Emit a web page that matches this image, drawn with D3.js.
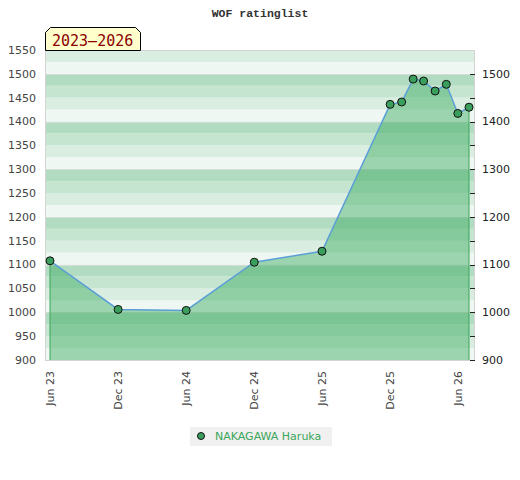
<!DOCTYPE html>
<html><head><meta charset="utf-8">
<script src="https://cdn.jsdelivr.net/npm/d3@7/dist/d3.min.js"></script>
<style>body{margin:0;background:#fff}svg{display:block}</style>
</head><body>
<svg id="c" width="520" height="480"></svg>
<script>
const dates = ["2023-06-01","2023-12-01","2024-06-01","2024-12-01","2025-06-01","2025-12-01","2026-01-01","2026-02-01","2026-03-01","2026-04-01","2026-05-01","2026-06-01","2026-07-01"];
const ratings = [1108,1006,1004,1105,1128,1436,1441,1489,1485,1464,1478,1417,1430];
const xTickDates = ["2023-06-01","2023-12-01","2024-06-01","2024-12-01","2025-06-01","2025-12-01","2026-06-01"];
const leftTicks = [900,950,1000,1050,1100,1150,1200,1250,1300,1350,1400,1450,1500,1550];
const rightTicks = [900,1000,1100,1200,1300,1400,1500];
const rightMinor = [950,1050,1150,1250,1350,1450];
const playerName = "NAKAGAWA Haruka";
const titleText = "WOF ratinglist";
const periodLabel = "2023–2026";

const parse = d3.utcParse("%Y-%m-%d");
const data = dates.map((d,i)=>({date:parse(d), v:ratings[i]}));
const svg = d3.select("#c");
const L=45, R=475, T=50, B=360;
const x = d3.scaleUtc().domain([parse(dates[0]), parse(dates[dates.length-1])]).range([50,469]);
const y = d3.scaleLinear().domain([900,1550]).range([B,T]);
const fmt = d3.utcFormat("%b %y");

// bands
const bandCol = {75:"#b2dcc2",50:"#c5e5d1",25:"#daede1",0:"#eef7f2"};
const bands = d3.range(900,1550,25);
svg.append("g").selectAll("rect").data(bands).join("rect")
  .attr("x",L).attr("width",R-L)
  .attr("y",d=>y(d+25)).attr("height",d=>y(d)-y(d+25))
  .attr("fill",d=>bandCol[d%100]);
svg.append("g").selectAll("line").data(d3.range(1000,1550,100)).join("line")
  .attr("x1",L).attr("x2",R).attr("y1",d=>Math.round(y(d))+0.5).attr("y2",d=>Math.round(y(d))+0.5)
  .attr("stroke","#d6dcd8").attr("stroke-width",1);

// area
const area = d3.area().x(d=>x(d.date)).y0(B).y1(d=>y(d.v));
svg.append("path").datum(data).attr("d",area).attr("fill","rgb(54,169,92)").attr("fill-opacity",0.45);
const first=data[0], last=data[data.length-1];
[first,last].forEach(d=>{
  svg.append("line").attr("x1",x(d.date)).attr("x2",x(d.date)).attr("y1",y(d.v)).attr("y2",B)
    .attr("stroke","#3aa65a").attr("stroke-width",1);
});
const line = d3.line().x(d=>x(d.date)).y(d=>y(d.v));
svg.append("path").datum(data).attr("d",line).attr("fill","none").attr("stroke","#5b9fd6").attr("stroke-width",1.5);

// border
svg.append("rect").attr("x",L+0.5).attr("y",T+0.5).attr("width",R-L-1).attr("height",B-T)
  .attr("fill","none").attr("stroke","#d4d4d4");

// markers
svg.append("g").selectAll("circle").data(data).join("circle")
  .attr("cx",d=>x(d.date)).attr("cy",d=>y(d.v)).attr("r",4)
  .attr("fill","#3a9e5c").attr("stroke","#111").attr("stroke-width",1);

// left axis labels
svg.append("g").selectAll("text").data(leftTicks).join("text")
  .attr("x",36).attr("y",d=>y(d)).attr("dy","0.35em").attr("text-anchor","end")
  .attr("font-family","DejaVu Sans").attr("font-size",11).attr("fill","#444").text(d=>d);

// right axis
svg.append("g").selectAll("line").data(rightTicks.concat(rightMinor)).join("line")
  .attr("x1",470).attr("x2",475).attr("y1",d=>Math.round(y(d))+0.5).attr("y2",d=>Math.round(y(d))+0.5)
  .attr("stroke","#222");
svg.append("g").selectAll("text").data(rightTicks).join("text")
  .attr("x",482).attr("y",d=>y(d)).attr("dy","0.35em").attr("text-anchor","start")
  .attr("font-family","DejaVu Sans").attr("font-size",11).attr("fill","#222").text(d=>d);

// x labels
svg.append("g").selectAll("text").data(xTickDates.map(parse)).join("text")
  .attr("transform",d=>`translate(${x(d)+4},371) rotate(-90)`).attr("text-anchor","end")
  .attr("font-family","DejaVu Sans").attr("font-size",11).attr("fill","#444").text(d=>fmt(d));

// title
svg.append("text").attr("x",260).attr("y",17).attr("text-anchor","middle")
  .attr("font-family","Liberation Mono").attr("font-weight","bold").attr("font-size",11.5).attr("fill","#333").text(titleText);

// period label
svg.append("path").attr("d","M45.5,50.5 L45.5,32.5 L50.5,27.5 L135.5,27.5 L140.5,32.5 L140.5,50.5 Z")
  .attr("fill","#ffffcc").attr("stroke","#000");
svg.append("text").attr("x",52).attr("y",45.5).attr("font-family","DejaVu Sans Mono").attr("font-size",15)
  .attr("fill","#8b0000").text(periodLabel);

// legend
svg.append("rect").attr("x",190).attr("y",427).attr("width",142).attr("height",19).attr("fill","#f0f0f0");
svg.append("circle").attr("cx",201).attr("cy",436).attr("r",3.5).attr("fill","#3a9e5c").attr("stroke","#111");
svg.append("text").attr("x",215).attr("y",440).attr("font-family","DejaVu Sans").attr("font-size",11)
  .attr("fill","#3aa65a").text(playerName);
</script>
</body></html>
